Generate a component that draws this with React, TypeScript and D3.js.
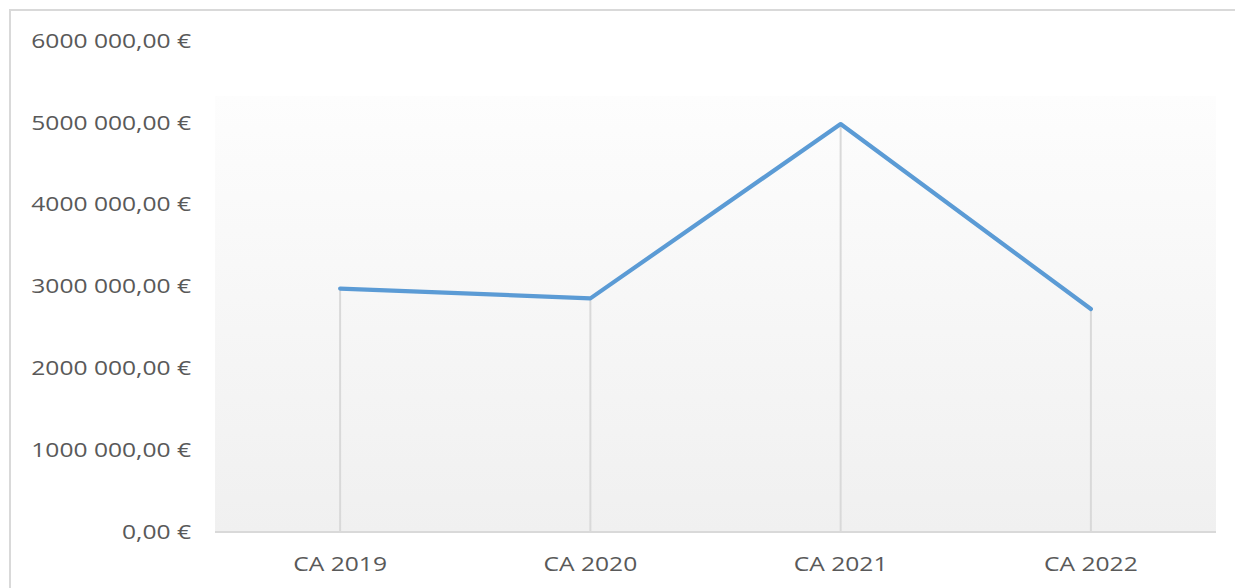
import React from "react";
import * as d3 from "d3";

const categories: string[] = ["CA 2019", "CA 2020", "CA 2021", "CA 2022"];
const revenue: number[] = [2975000, 2855000, 4985000, 2725000];
const yTicks: number[] = [0, 1000000, 2000000, 3000000, 4000000, 5000000, 6000000];

const W = 1235;
const H = 588;
const plotLeft = 215;
const plotRight = 1216;
const axisY = 532;
const topY = 41;
const fillTop = 96;

function fmtEuro(v: number): string {
  const fixed = v.toFixed(2);
  const [intPart, dec] = fixed.split(".");
  let s = intPart;
  if (intPart.length > 6) {
    s = intPart.slice(0, intPart.length - 6) + intPart.slice(intPart.length - 6, intPart.length - 3) + " " + intPart.slice(intPart.length - 3);
  } else if (intPart.length > 3) {
    s = intPart.slice(0, intPart.length - 3) + " " + intPart.slice(intPart.length - 3);
  }
  return `${s},${dec} €`;
}

export default function App() {
  const x = d3.scaleBand<string>().domain(categories).range([plotLeft, plotRight]).padding(0);
  const y = d3.scaleLinear().domain([0, 6000000]).range([axisY, topY]);
  const cx = (c: string) => (x(c) ?? 0) + x.bandwidth() / 2;
  const line = d3
    .line<number>()
    .x((_, i) => cx(categories[i]))
    .y((d) => y(d));

  const font = "'Open Sans', sans-serif";
  const textColor = "#595959";
  const fs = 20.5;
  const sx = 1.2;

  return (
    <svg
      width={W}
      height={H}
      style={{ position: "absolute", left: 0, top: 0, background: "#ffffff" }}
    >
      <defs>
        <linearGradient id="plotFill" x1="0" y1="0" x2="0" y2="1">
          <stop offset="0%" stopColor="#fdfdfd" />
          <stop offset="100%" stopColor="#f0f0f0" />
        </linearGradient>
      </defs>
      <rect x={10} y={10} width={W + 20} height={H + 20} fill="#ffffff" stroke="#d9d9d9" strokeWidth={2} />
      <rect
        x={plotLeft}
        y={fillTop}
        width={plotRight - plotLeft}
        height={axisY - fillTop}
        fill="url(#plotFill)"
      />
      {revenue.map((v, i) => (
        <line
          key={"drop" + i}
          x1={cx(categories[i])}
          x2={cx(categories[i])}
          y1={y(v)}
          y2={axisY}
          stroke="#d9d9d9"
          strokeWidth={2}
        />
      ))}
      <line x1={plotLeft} x2={plotRight} y1={axisY} y2={axisY} stroke="#d9d9d9" strokeWidth={2} />
      <path
        d={line(revenue) ?? ""}
        fill="none"
        stroke="#5b9bd5"
        strokeWidth={4.2}
        strokeLinejoin="round"
        strokeLinecap="round"
      />
      {yTicks.map((t) => (
        <text
          key={"yt" + t}
          transform={`translate(191,${y(t) - 1}) scale(${sx},1)`}
          textAnchor="end"
          dominantBaseline="central"
          fontFamily={font}
          fontSize={fs}
          fill={textColor}
        >
          {fmtEuro(t)}
        </text>
      ))}
      {categories.map((c) => (
        <text
          key={"xt" + c}
          transform={`translate(${cx(c)},${563}) scale(${sx},1)`}
          textAnchor="middle"
          dominantBaseline="central"
          fontFamily={font}
          fontSize={fs}
          fill={textColor}
        >
          {c}
        </text>
      ))}
    </svg>
  );
}
